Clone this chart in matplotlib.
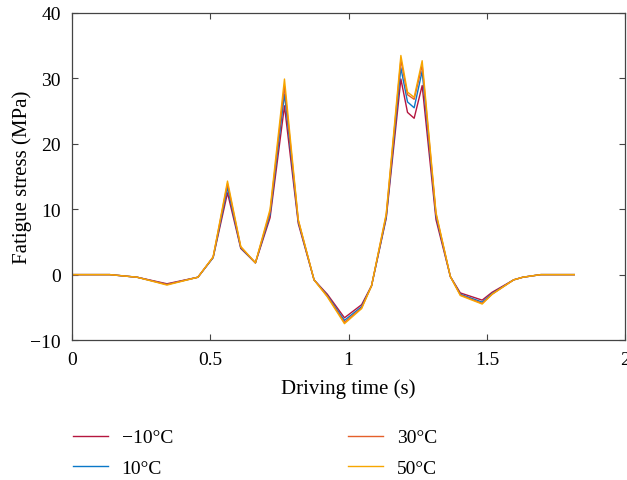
import matplotlib
matplotlib.use("Agg")
import matplotlib.pyplot as plt

plt.rcParams["font.family"] = ["Liberation Serif", "DejaVu Serif"]

# driving time samples (s)
time_s = [0.0, 0.136, 0.235, 0.343, 0.455, 0.51, 0.562, 0.61, 0.663, 0.716,
          0.768, 0.818, 0.875, 0.923, 0.985, 1.047, 1.083, 1.136, 1.189, 1.213,
          1.237, 1.266, 1.316, 1.368, 1.404, 1.483, 1.519, 1.597, 1.63, 1.695, 1.816]

stress_m10 = [0, 0, -0.4, -1.4, -0.4, 2.6, 12.5, 4.0, 1.8, 8.7,
              25.8, 7.8, -0.8, -3.0, -6.6, -4.6, -1.7, 8.6, 29.9, 24.8,
              23.9, 28.9, 8.4, -0.3, -2.8, -3.9, -2.7, -0.8, -0.4, 0, 0]
stress_10 = [0, 0, -0.4, -1.5, -0.4, 2.6, 13.3, 4.1, 1.8, 9.2,
             27.6, 8.1, -0.8, -3.2, -7.0, -4.9, -1.7, 8.8, 31.6, 26.4,
             25.5, 31.1, 9.0, -0.3, -3.0, -4.2, -2.9, -0.8, -0.4, 0, 0]
stress_30 = [0, 0, -0.4, -1.5, -0.4, 2.7, 13.9, 4.2, 1.8, 9.6,
             28.8, 8.3, -0.8, -3.3, -7.3, -5.1, -1.7, 9.1, 32.8, 27.5,
             26.8, 32.0, 9.3, -0.3, -3.1, -4.4, -3.0, -0.8, -0.4, 0, 0]
stress_50 = [0, 0, -0.4, -1.6, -0.4, 2.7, 14.3, 4.3, 1.8, 10.0,
             29.9, 8.4, -0.8, -3.4, -7.5, -5.2, -1.7, 9.3, 33.5, 27.9,
             27.1, 32.7, 9.5, -0.3, -3.2, -4.5, -3.0, -0.8, -0.4, 0, 0]

labels = ["\u221210\u00b0C", "10\u00b0C", "30\u00b0C", "50\u00b0C"]
colors = ["#b5163f", "#0a78c8", "#e5602a", "#f7a600"]
series = [stress_m10, stress_10, stress_30, stress_50]

fig = plt.figure(figsize=(6.27, 4.81), dpi=100)
ax = fig.add_axes([0.115, 0.291, 0.882, 0.680])

for ys, c, lab in zip(series, colors, labels):
    ax.plot(time_s, ys, color=c, lw=1.0, label=lab)

ax.set_xlim(0, 2)
ax.set_ylim(-10, 40)
ax.set_xticks([0, 0.5, 1, 1.5, 2])
ax.set_xticklabels(["0", "0.5", "1", "1.5", "2"])
ax.set_yticks([-10, 0, 10, 20, 30, 40])
ax.tick_params(direction="in", top=True, right=True, labelsize=14, length=4,
               color="#444444", pad=8)
for sp in ax.spines.values():
    sp.set_color("#444444")
    sp.set_linewidth(0.9)
ax.set_xlabel("Driving time (s)", fontsize=15, labelpad=7)
ax.set_ylabel("Fatigue stress (MPa)", fontsize=15, labelpad=-1)

fig.legend(loc="upper left", bbox_to_anchor=(0.088, 0.143), ncol=2, frameon=False,
           fontsize=14, handlelength=1.8, handletextpad=0.72, columnspacing=9.0,
           labelspacing=0.65)

fig.savefig("out.png", dpi=100)
